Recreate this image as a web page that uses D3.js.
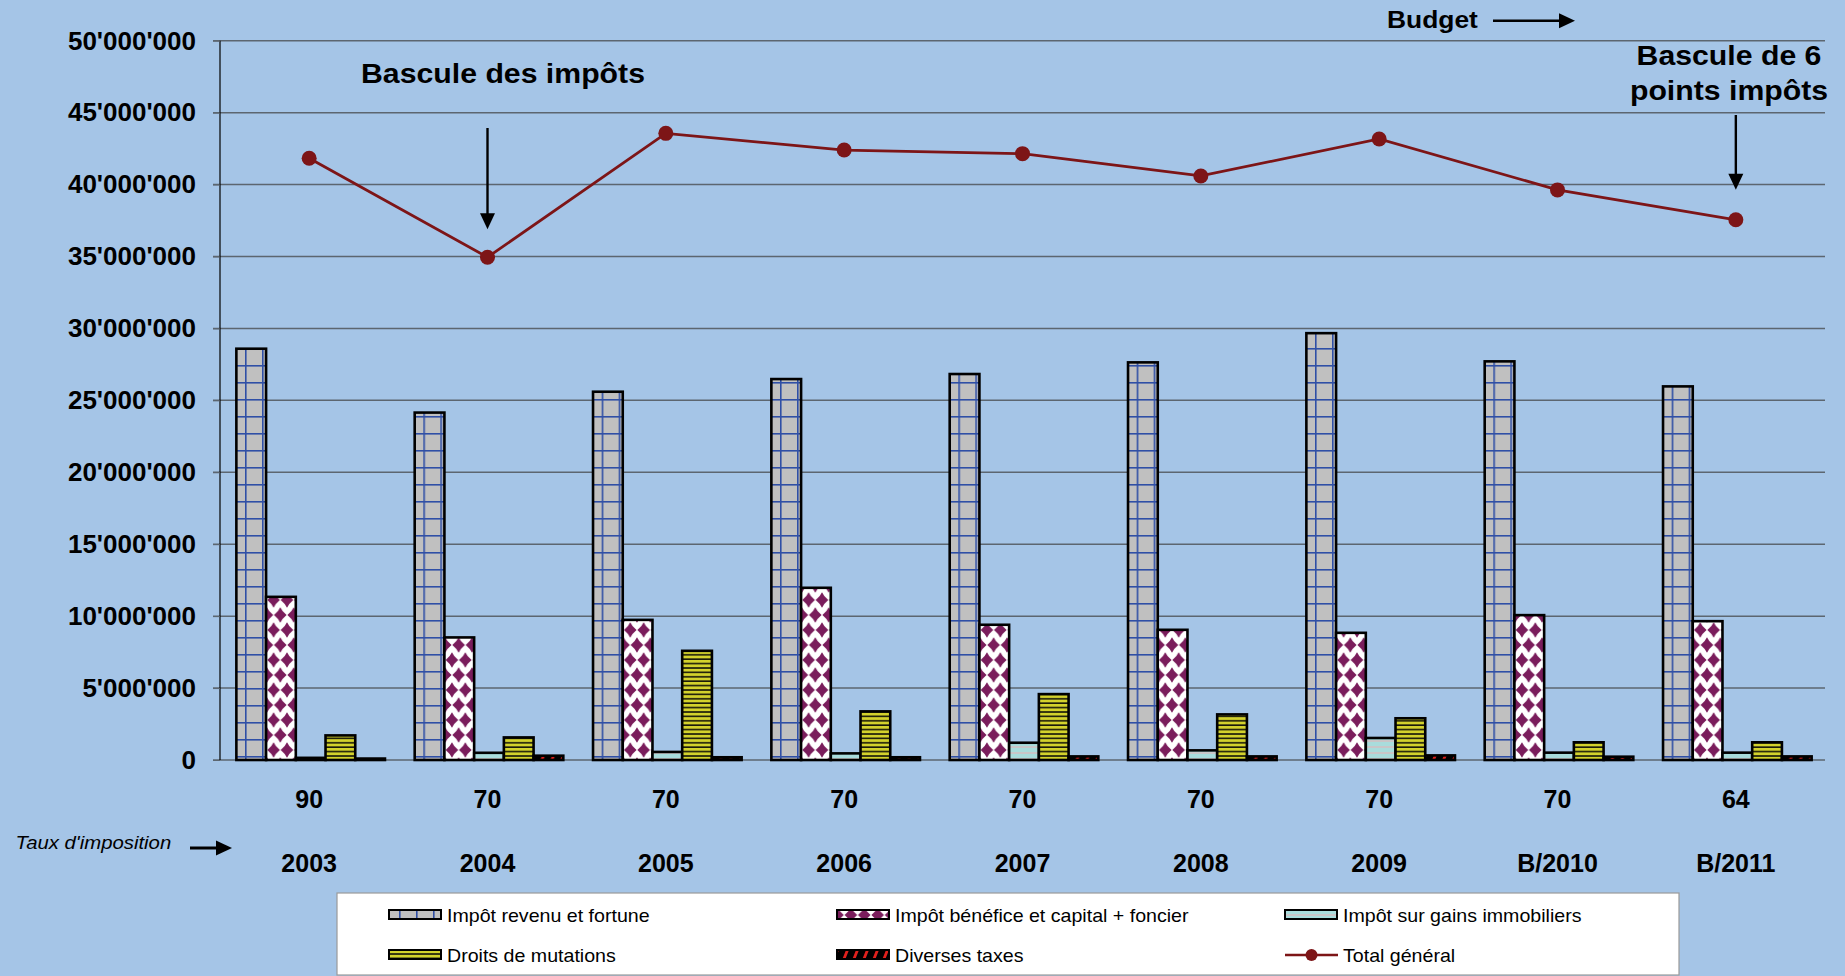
<!DOCTYPE html>
<meta charset="utf-8">
<style type="text/css">
body {
    margin: 0;
    background: #a5c5e7;
    font-family: 'Liberation Sans', Arial, sans-serif;
}
svg { display: block; }
.bar { stroke: #000; stroke-width: 2.6px; }
.grid line { stroke: #5c6670; stroke-width: 1.5px; }
</style>
<body>
<script src="https://d3js.org/d3.v7.min.js"></script>
<script>
// recettes fiscales par nature d'impot
var categories = ["2003", "2004", "2005", "2006", "2007", "2008", "2009", "B/2010", "B/2011"]
var taux = ["90", "70", "70", "70", "70", "70", "70", "70", "64"]

var revenuFortune    = [28590000, 24150000, 25600000, 26480000, 26830000, 27640000, 29670000, 27710000, 25970000]
var beneficeCapital  = [11340000, 8520000, 9740000, 11970000, 9400000, 9050000, 8840000, 10070000, 9650000]
var gainsImmobiliers = [150000, 500000, 560000, 460000, 1200000, 670000, 1530000, 510000, 510000]
var droitsMutations  = [1710000, 1570000, 7590000, 3380000, 4580000, 3170000, 2900000, 1230000, 1230000]
var diversesTaxes    = [100000, 300000, 190000, 190000, 250000, 250000, 320000, 230000, 250000]
var totalGeneral     = [41830000, 34950000, 43560000, 42400000, 42150000, 40600000, 43170000, 39630000, 37550000]

var seriesNames = ["Impôt revenu et fortune", "Impôt bénéfice et capital + foncier",
    "Impôt sur gains immobiliers", "Droits de mutations", "Diverses taxes"]
var yTicks = [0, 5000000, 10000000, 15000000, 20000000, 25000000, 30000000, 35000000, 40000000, 45000000, 50000000]

var series = [revenuFortune, beneficeCapital, gainsImmobiliers, droitsMutations, diversesTaxes]
var patternIds = ["p-revenu", "p-benefice", "p-gains", "p-droits", "p-divers"]

var width = 1845, height = 976
var plotLeft = 220, plotRight = 1825, plotTop = 40.7, plotBottom = 760

var svg = d3.select('body').append('svg')
    .attr('width', width)
    .attr('height', height)

svg.append('rect').attr('width', width).attr('height', height).attr('fill', '#a5c5e7')

// patterns
var defs = svg.append('defs')

var p1 = defs.append('pattern').attr('id', 'p-revenu').attr('patternUnits', 'userSpaceOnUse')
    .attr('width', 17).attr('height', 17)
p1.append('rect').attr('width', 17).attr('height', 17).attr('fill', '#c0c0c0')
p1.append('rect').attr('x', 8).attr('width', 1.6).attr('height', 17).attr('fill', '#2f4fa6')
p1.append('rect').attr('y', 8).attr('width', 17).attr('height', 1.6).attr('fill', '#2f4fa6')

var p2 = defs.append('pattern').attr('id', 'p-benefice').attr('patternUnits', 'userSpaceOnUse')
    .attr('width', 13.4).attr('height', 30)
p2.append('rect').attr('width', 13.4).attr('height', 30).attr('fill', '#fff')
p2.selectAll('path').data([[0, 0], [13.4, 0], [6.7, 15], [0, 30], [13.4, 30]]).enter()
    .append('path')
    .attr('d', d => 'M' + d[0] + ',' + (d[1] - 7.8) + 'q1.6,3.9 6.3,7.8q-4.7,3.9 -6.3,7.8q-1.6,-3.9 -6.3,-7.8q4.7,-3.9 6.3,-7.8z')
    .attr('fill', '#7a1d5c')

var p3 = defs.append('pattern').attr('id', 'p-gains').attr('patternUnits', 'userSpaceOnUse')
    .attr('width', 8).attr('height', 6)
p3.append('rect').attr('width', 8).attr('height', 6).attr('fill', '#a9dcdc')
p3.append('rect').attr('y', 2).attr('width', 8).attr('height', 2).attr('fill', '#c9c6c8')

var p4 = defs.append('pattern').attr('id', 'p-droits').attr('patternUnits', 'userSpaceOnUse')
    .attr('width', 8).attr('height', 4.4)
p4.append('rect').attr('width', 8).attr('height', 4.4).attr('fill', '#d3d22c')
p4.append('rect').attr('y', 2.8).attr('width', 8).attr('height', 1.6).attr('fill', '#1a1a0a')

var p5 = defs.append('pattern').attr('id', 'p-divers').attr('patternUnits', 'userSpaceOnUse')
    .attr('width', 10).attr('height', 10)
p5.append('rect').attr('width', 10).attr('height', 10).attr('fill', '#000')
p5.append('path').attr('d', 'M2,10L6,0L9,0L5,10z').attr('fill', '#e0201c')

// scales
var x0 = d3.scaleBand().domain(categories).range([plotLeft, plotRight]).padding(0)
var x1 = d3.scaleBand().domain(d3.range(5))
    .range([x0.bandwidth() / 12 + 1.5, x0.bandwidth() * 11 / 12 + 1.5]).padding(0)
var y = d3.scaleLinear().domain([0, 50000000]).range([plotBottom, plotTop])

var fmt = d3.formatLocale({ decimal: ".", thousands: "'", grouping: [3], currency: ["", ""] }).format(",")

// gridlines
svg.append('g').attr('class', 'grid')
    .selectAll('line').data(yTicks).enter()
    .append('line')
    .attr('x1', plotLeft - 7).attr('x2', plotRight)
    .attr('y1', d => y(d)).attr('y2', d => y(d))

// y axis
var yAxis = svg.append('g')
    .attr('transform', 'translate(' + plotLeft + ',0)')
    .call(d3.axisLeft(y).tickValues(yTicks).tickFormat(fmt).tickSize(7).tickPadding(17))
yAxis.select('.domain').attr('stroke', '#000').attr('stroke-width', 1.2)
    .attr('d', 'M0,' + plotTop + 'V' + plotBottom)
yAxis.selectAll('.tick line').attr('stroke', '#5c6670')
yAxis.selectAll('.tick text')
    .attr('font-family', "'Liberation Sans', Arial, sans-serif")
    .attr('font-size', 26).attr('font-weight', 'bold').attr('fill', '#000')

// bars
var groups = svg.append('g').selectAll('g').data(categories).enter()
    .append('g')
    .attr('transform', d => 'translate(' + x0(d) + ',0)')

groups.selectAll('rect')
    .data((d, i) => series.map((s, k) => ({ k: k, v: s[i] })))
    .enter()
    .append('rect')
    .attr('class', 'bar')
    .attr('x', d => x1(d.k))
    .attr('width', x1.bandwidth())
    .attr('y', d => y(d.v))
    .attr('height', d => y(0) - y(d.v))
    .attr('fill', d => 'url(#' + patternIds[d.k] + ')')

// total line
var lineColor = '#7d1517'
var line = d3.line()
    .x((d, i) => x0(categories[i]) + x0.bandwidth() / 2)
    .y(d => y(d))
svg.append('path').datum(totalGeneral)
    .attr('d', line)
    .attr('fill', 'none')
    .attr('stroke', lineColor)
    .attr('stroke-width', 2.8)
svg.append('g').selectAll('circle').data(totalGeneral).enter()
    .append('circle')
    .attr('cx', (d, i) => x0(categories[i]) + x0.bandwidth() / 2)
    .attr('cy', d => y(d))
    .attr('r', 7.5)
    .attr('fill', lineColor)

// category labels
var labels = svg.append('g').selectAll('g').data(categories).enter()
    .append('g')
    .attr('font-weight', 'bold').attr('font-size', 25).attr('text-anchor', 'middle')
labels.append('text')
    .attr('x', d => x0(d) + x0.bandwidth() / 2)
    .attr('y', 808)
    .text((d, i) => taux[i])
labels.append('text')
    .attr('x', d => x0(d) + x0.bandwidth() / 2)
    .attr('y', 872)
    .text(d => d)

// stretched text helper (the original is wider than plain Arial)
function stretched(g, x, yy, txt, size, sx, anchor, weight, style) {
    return g.append('text')
        .attr('transform', 'translate(' + x + ',' + yy + ') scale(' + sx + ',1)')
        .attr('font-size', size)
        .attr('font-weight', weight || 'normal')
        .attr('font-style', style || 'normal')
        .attr('text-anchor', anchor || 'start')
        .text(txt)
}

function arrow(g, xa, ya, xb, yb, w) {
    w = w || 2.4
    var ang = Math.atan2(yb - ya, xb - xa) * 180 / Math.PI
    var len = Math.hypot(xb - xa, yb - ya)
    var a = g.append('g').attr('transform', 'translate(' + xa + ',' + ya + ') rotate(' + ang + ')')
    a.append('line').attr('x1', 0).attr('x2', len - 14).attr('stroke', '#000').attr('stroke-width', w)
    a.append('path').attr('d', 'M' + len + ',0L' + (len - 16) + ',-7.5L' + (len - 16) + ',7.5z').attr('fill', '#000')
}

var ann = svg.append('g')
var c2004 = x0("2004") + x0.bandwidth() / 2
var c2011 = x0("B/2011") + x0.bandwidth() / 2
stretched(ann, 503, 83, "Bascule des impôts", 27, 1.12, 'middle', 'bold')
arrow(ann, c2004, 128, c2004, y(totalGeneral[1]) - 28)
stretched(ann, 1729, 65, "Bascule de 6", 27, 1.12, 'middle', 'bold')
stretched(ann, 1729, 99.5, "points impôts", 27, 1.12, 'middle', 'bold')
arrow(ann, c2011, 115, c2011, y(totalGeneral[8]) - 30)
stretched(ann, 1387, 28.3, "Budget", 24, 1.1, 'start', 'bold')
arrow(ann, 1493, 20.7, 1575, 20.7)
stretched(ann, 15.6, 849, "Taux d'imposition", 18, 1.13, 'start', 'normal', 'italic')
arrow(ann, 190, 848, 232, 848, 3)

// legend
var legend = svg.append('g')
legend.append('rect')
    .attr('x', 337).attr('y', 893).attr('width', 1342).attr('height', 82)
    .attr('fill', '#fff').attr('stroke', '#9a9a9a').attr('stroke-width', 1.2)

var colX = [389, 837, 1285]
var rowY = [915, 955]
var legendItems = seriesNames.concat(["Total général"])
legendItems.forEach(function (name, i) {
    var lx = colX[i % 3], ly = rowY[Math.floor(i / 3)]
    if (i < 5) {
        legend.append('rect')
            .attr('x', lx).attr('y', ly - 5).attr('width', 52).attr('height', 9)
            .attr('fill', 'url(#' + patternIds[i] + ')')
            .attr('stroke', '#000').attr('stroke-width', 2)
    } else {
        legend.append('line').attr('x1', lx).attr('x2', lx + 53).attr('y1', ly).attr('y2', ly)
            .attr('stroke', lineColor).attr('stroke-width', 2.5)
        legend.append('circle').attr('cx', lx + 26.5).attr('cy', ly).attr('r', 6).attr('fill', lineColor)
    }
    stretched(legend, lx + 58, ly + 6.5, name, 18.5, 1.06, 'start', 'normal')
})
</script>
</body>
